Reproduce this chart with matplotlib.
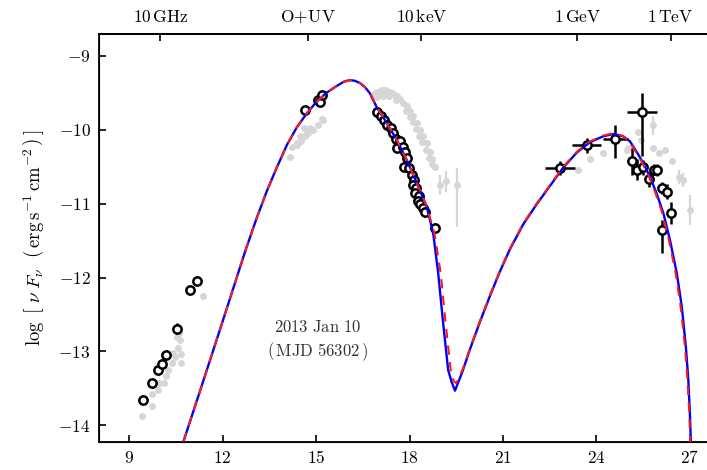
import matplotlib
matplotlib.use("Agg")
import matplotlib.pyplot as plt

plt.rcParams["mathtext.fontset"] = "cm"
plt.rcParams["font.family"] = "serif"
plt.rcParams["font.serif"] = ["DejaVu Serif"]

# ---------------- data: log(nu) [Hz] vs log(nu F_nu) [erg s^-1 cm^-2] ----------------
# radio, this epoch
radio_x = [9.45, 9.72, 9.93, 10.04, 10.18, 10.53, 10.96, 11.19]
radio_y = [-13.66, -13.43, -13.25, -13.17, -13.05, -12.69, -12.17, -12.05]
radio_err = [0.0, 0.0, 0.0, 0.0, 0.0, 0.07, 0.0, 0.0]

# radio, archival
radio_arch_x = [9.40, 9.72, 9.72, 9.91, 9.96, 10.13, 10.17, 10.26, 10.36, 10.40,
                10.47, 10.56, 10.55, 10.63, 10.66, 10.66, 10.60, 11.38]
radio_arch_y = [-13.87, -13.74, -13.57, -13.52, -13.43, -13.43, -13.33, -13.25, -13.16, -13.02,
                -13.07, -12.95, -12.80, -12.84, -13.04, -13.15, -12.75, -12.25]

# optical / UV, this epoch
opt_x = [14.64, 15.07, 15.13, 15.18]
opt_y = [-9.74, -9.60, -9.63, -9.53]

# optical / UV, archival
opt_arch_x = [15.23, 15.18, 15.07, 14.91, 14.80, 14.75, 14.70, 14.64, 14.60, 14.53,
              14.49, 14.38, 14.38, 14.22, 14.16]
opt_arch_y = [-9.87, -9.85, -9.94, -10.00, -9.98, -10.05, -10.03, -10.09, -9.98, -10.16,
              -10.09, -10.21, -10.18, -10.23, -10.37]

# X-ray, this epoch
xray_x = [16.94, 17.07, 17.18, 17.27, 17.39, 17.48, 17.56, 17.61, 17.69, 17.78,
          17.86, 17.91, 17.82, 17.99, 18.07, 18.14, 18.10, 18.21, 18.19, 18.29,
          18.26, 18.33, 18.42, 18.50, 18.82]
xray_y = [-9.76, -9.81, -9.87, -9.94, -9.98, -10.05, -10.12, -10.25, -10.16, -10.23,
          -10.30, -10.39, -10.50, -10.52, -10.61, -10.68, -10.75, -10.79, -10.86, -10.90,
          -10.97, -11.00, -11.06, -11.12, -11.33]

# X-ray, archival
xray_arch_x = [16.83, 16.90, 16.97, 17.05, 17.12, 17.20, 17.28, 17.36, 17.44, 17.52,
               17.60, 17.69, 16.95, 17.15, 17.35, 17.55,
               17.80, 17.91, 18.02, 18.12, 18.23, 18.33, 18.44, 18.55, 18.65, 18.73,
               18.82, 17.88, 18.00, 18.10, 18.20, 18.30, 18.41, 18.52, 18.62, 18.71]
xray_arch_y = [-9.55, -9.51, -9.49, -9.48, -9.47, -9.47, -9.48, -9.49, -9.51, -9.53,
               -9.55, -9.58, -9.56, -9.54, -9.55, -9.60,
               -9.64, -9.68, -9.75, -9.82, -9.91, -10.00, -10.09, -10.18, -10.30, -10.40,
               -10.50, -9.75, -9.83, -9.90, -9.99, -10.08, -10.17, -10.27, -10.38, -10.47]

# hard X-ray, archival (with errors)
hx_arch_x = [18.98, 19.17, 19.51]
hx_arch_y = [-10.75, -10.70, -10.75]
hx_arch_lo = [0.14, 0.14, 0.56]
hx_arch_hi = [0.14, 0.14, 0.23]

# gamma-ray (Fermi-LAT) bins
lat_x = [22.83, 23.69, 24.60, 25.45]
lat_y = [-10.52, -10.21, -10.12, -9.76]
lat_xerr = [0.47, 0.47, 0.40, 0.48]
lat_lo = [0.10, 0.10, 0.27, 0.60]
lat_hi = [0.10, 0.10, 0.18, 0.25]

# very-high-energy, this epoch
vhe_x = [25.15, 25.29, 25.48, 25.70, 25.85, 25.95, 26.09, 26.25, 26.38, 26.09]
vhe_y = [-10.43, -10.54, -10.51, -10.67, -10.54, -10.55, -10.79, -10.84, -11.13, -11.36]
vhe_lo = [0.18, 0.14, 0.10, 0.10, 0.08, 0.08, 0.08, 0.10, 0.15, 0.31]
vhe_hi = [0.18, 0.14, 0.10, 0.10, 0.08, 0.08, 0.08, 0.10, 0.15, 0.14]

# gamma-ray / VHE, archival
gam_arch_x = [23.42, 23.79, 24.22, 24.97, 25.02, 25.34, 25.42, 25.81, 25.83, 26.02,
              26.20, 26.42, 26.66, 26.79, 27.00]
gam_arch_y = [-10.55, -10.40, -10.31, -10.27, -10.25, -10.03, -10.14, -9.94, -10.25, -10.32,
              -10.27, -10.43, -10.64, -10.68, -11.09]
gam_arch_err = [0.0, 0.0, 0.0, 0.0, 0.0, 0.0, 0.0, 0.13, 0.0, 0.0,
                0.0, 0.0, 0.10, 0.10, 0.20]

# SED models
model_a_x = [10.74, 11.30, 11.81, 12.30, 12.72, 13.09, 13.41, 13.74, 14.06, 14.38,
             14.70, 15.02, 15.34, 15.66, 15.90, 16.09, 16.25, 16.41, 16.58, 16.73,
             16.94, 17.27, 17.59, 17.91, 18.23, 18.55, 18.76, 18.92, 19.08, 19.24,
             19.35, 19.46, 19.70, 19.94, 20.26, 20.58, 20.90, 21.22, 21.65, 22.08,
             22.51, 22.94, 23.37, 23.79, 24.22, 24.54, 24.86, 25.08, 25.29, 25.50,
             25.72, 25.93, 26.15, 26.36, 26.58, 26.74, 26.87, 26.95, 27.00, 27.03, 27.05]
model_a_y = [-14.22, -13.50, -12.84, -12.20, -11.65, -11.20, -10.84, -10.51, -10.21, -9.97,
             -9.78, -9.62, -9.50, -9.41, -9.35, -9.33, -9.34, -9.37, -9.43, -9.51,
             -9.69, -9.91, -10.14, -10.41, -10.72, -11.04, -11.40, -11.94, -12.62, -13.25,
             -13.41, -13.53, -13.27, -12.97, -12.60, -12.25, -11.92, -11.62, -11.28, -11.01,
             -10.76, -10.51, -10.31, -10.17, -10.09, -10.06, -10.09, -10.16, -10.30, -10.45,
             -10.64, -10.86, -11.13, -11.49, -11.94, -12.39, -12.93, -13.38, -13.83, -14.21, -14.60]

model_b_x = [10.74, 11.30, 11.81, 12.30, 12.72, 13.09, 13.41, 13.74, 14.06, 14.38,
             14.70, 15.02, 15.34, 15.66, 15.90, 16.09, 16.25, 16.41, 16.58, 16.73,
             16.94, 17.27, 17.59, 17.91, 18.23, 18.55, 18.80, 19.00, 19.16, 19.32,
             19.42, 19.50, 19.70, 19.94, 20.26, 20.58, 20.90, 21.22, 21.65, 22.08,
             22.51, 22.94, 23.37, 23.79, 24.22, 24.52, 24.82, 25.04, 25.25, 25.46,
             25.68, 25.89, 26.11, 26.32, 26.54, 26.70, 26.84, 26.92, 26.98, 27.01, 27.03]
model_b_y = [-14.22, -13.50, -12.84, -12.20, -11.65, -11.20, -10.84, -10.51, -10.21, -9.97,
             -9.78, -9.62, -9.50, -9.41, -9.35, -9.33, -9.34, -9.37, -9.43, -9.51,
             -9.69, -9.91, -10.14, -10.41, -10.72, -11.04, -11.40, -11.94, -12.62, -13.25,
             -13.40, -13.43, -13.25, -12.96, -12.59, -12.24, -11.91, -11.61, -11.27, -11.00,
             -10.75, -10.50, -10.30, -10.16, -10.08, -10.05, -10.08, -10.15, -10.29, -10.44,
             -10.63, -10.85, -11.12, -11.48, -11.93, -12.38, -12.92, -13.37, -13.82, -14.20, -14.60]

x_ticks = [9, 12, 15, 18, 21, 24, 27]
y_ticks = [-14, -13, -12, -11, -10, -9]
top_ticks = [10.0, 14.75, 18.38, 23.38, 26.38]
top_labels = [r"$10\,\mathrm{GHz}$", r"$\mathrm{O\!+\!UV}$", r"$10\,\mathrm{keV}$",
              r"$1\,\mathrm{GeV}$", r"$1\,\mathrm{TeV}$"]

# ---------------- figure ----------------
fig = plt.figure(figsize=(7.07, 4.70), dpi=100)
ax = fig.add_axes([0.140, 0.0602, 0.860, 0.8674])

gray = "#d6d6d6"
gkw = dict(fmt="o", color=gray, ms=5, mew=0, elinewidth=1.6, capsize=0, zorder=1)
ax.errorbar(radio_arch_x, radio_arch_y, **gkw)
ax.errorbar(opt_arch_x, opt_arch_y, **gkw)
ax.errorbar(xray_arch_x, xray_arch_y, **gkw)
ax.errorbar(hx_arch_x, hx_arch_y, yerr=[hx_arch_lo, hx_arch_hi], **gkw)
ax.errorbar(gam_arch_x, gam_arch_y, yerr=gam_arch_err, **gkw)

bkw = dict(fmt="o", mfc="white", mec="black", ms=6, mew=1.8, ecolor="black",
           elinewidth=1.8, capsize=0, zorder=3)
ax.errorbar(radio_x, radio_y, yerr=radio_err, **bkw)
ax.errorbar(opt_x, opt_y, **bkw)
ax.errorbar(xray_x, xray_y, **bkw)
ax.errorbar(lat_x, lat_y, xerr=lat_xerr, yerr=[lat_lo, lat_hi], **bkw)
ax.errorbar(vhe_x, vhe_y, yerr=[vhe_lo, vhe_hi], **bkw)

ax.plot(model_a_x, model_a_y, color="#0000ff", lw=1.7, zorder=4)
ax.plot(model_b_x, model_b_y, color="#ff1a1a", lw=1.5, dashes=(4.5, 3.5), zorder=5)

ax.set_xlim(8.03, 27.55)
ax.set_ylim(-14.22, -8.707)

ax.set_xticks(x_ticks, labels=[rf"${v}$" for v in x_ticks])
ax.set_yticks(y_ticks, labels=[rf"$-{abs(v)}$" for v in y_ticks])
ax.tick_params(direction="in", length=5, width=1.2, labelsize=12.5, pad=6)
ax.spines["right"].set_visible(False)
for s in ("left", "bottom", "top"):
    ax.spines[s].set_linewidth(1.3)

top = ax.twiny()
top.set_xlim(ax.get_xlim())
top.set_xticks(top_ticks, labels=top_labels)
top.tick_params(direction="in", length=5, width=1.2, labelsize=12.5, pad=6)
top.spines["right"].set_visible(False)
top.spines["top"].set_linewidth(1.3)

ax.set_ylabel(r"$\log\ \left[\ \nu\ F_\nu\ \ \left(\,\mathrm{erg\,s^{-1}\,cm^{-2}}\,\right)\,\right]$",
              fontsize=13.5, labelpad=8)

ax.text(15.06, -12.68, r"$\mathrm{2013\ Jan\ 10}$", ha="center", va="center", fontsize=12, color="#333333")
ax.text(15.06, -13.00, r"$(\,\mathrm{MJD\ 56302}\,)$", ha="center", va="center", fontsize=12, color="#333333")

fig.savefig("out.png", dpi=100)
